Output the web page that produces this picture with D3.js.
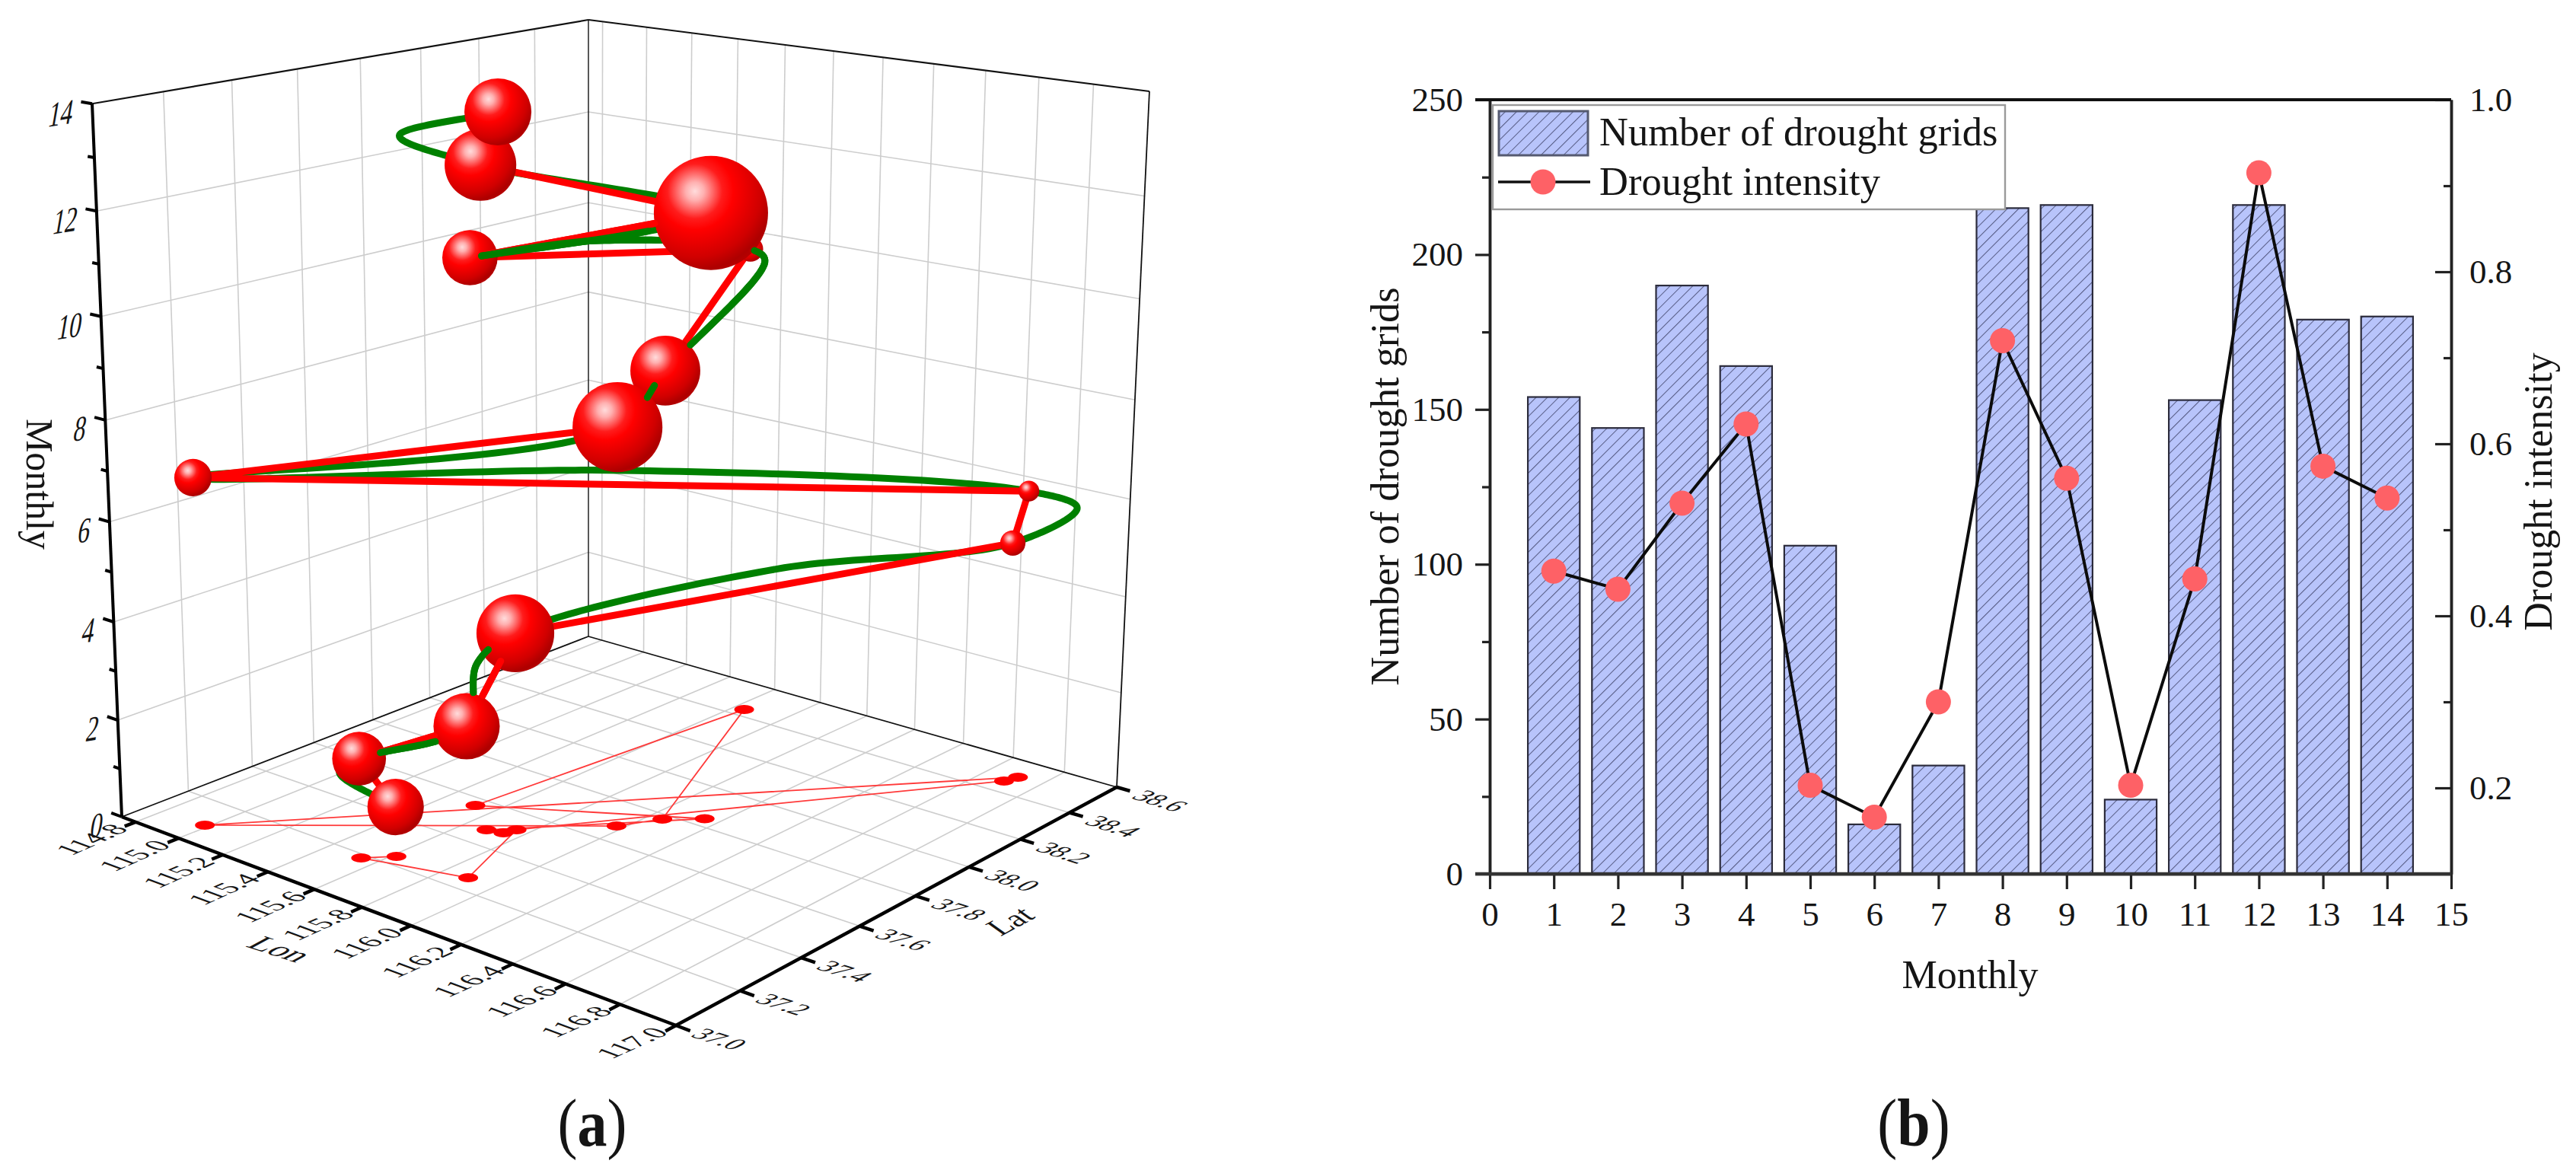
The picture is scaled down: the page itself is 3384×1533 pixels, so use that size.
<!DOCTYPE html>
<html>
<head>
<meta charset="utf-8">
<script src="https://cdn.jsdelivr.net/npm/d3@7"></script>
<style>
  html, body { margin: 0; padding: 0; background: #fff; }
  text { font-family: "Liberation Serif", serif; fill: #151515; }
</style>
</head>
<body>
<svg id="chart" width="3384" height="1533"></svg>
<script>
// values
const months = [1, 2, 3, 4, 5, 6, 7, 8, 9, 10, 11, 12, 13, 14];
const droughtGrids = [154, 144, 190, 164, 106, 16, 35, 215, 216, 24, 153, 216, 179, 180];
const droughtIntensity = [0.452, 0.431, 0.531, 0.623, 0.203, 0.166, 0.3, 0.72, 0.56, 0.203, 0.443, 0.915, 0.574, 0.537];
const lon = [115.615, 115.541, 115.893, 115.755, 116.692, 116.708, 114.985, 115.974, 116.048, 115.641, 115.522, 116.148, 115.684, 115.74];
const lat = [37.239, 37.183, 37.256, 37.519, 38.463, 38.504, 37.088, 37.679, 37.776, 38.44, 37.563, 37.839, 37.475, 37.487];

// green spline of panel a, its knots
const greenMonth = [1, 1.5, 2, 3, 3.57, 4, 4.5, 5, 5.37, 6, 6.42, 7, 8, 9, 9.7, 10, 10.5, 11, 12, 13, 13.5, 14];
const greenLon = [115.615, 115.427, 115.541, 115.893, 115.719, 115.755, 116.13, 116.692, 116.745, 116.708, 115.719, 114.985, 115.974, 116.048, 115.65, 115.641, 115.407, 115.522, 116.148, 115.684, 115.481, 115.74];
const greenLat = [37.239, 37.202, 37.183, 37.256, 37.423, 37.519, 38.105, 38.463, 38.67, 38.504, 37.906, 37.088, 37.679, 37.776, 38.488, 38.44, 38.068, 37.563, 37.839, 37.475, 37.381, 37.487];

const lonTicks = [114.8, 115.0, 115.2, 115.4, 115.6, 115.8, 116.0, 116.2, 116.4, 116.6, 116.8, 117.0];
const latTicks = [37.0, 37.2, 37.4, 37.6, 37.8, 38.0, 38.2, 38.4, 38.6];
const zMajor = [0, 2, 4, 6, 8, 10, 12, 14];
const zMinor = [1, 3, 5, 7, 9, 11, 13];

const xTicks = d3.range(0, 16);
const leftTicks = [0, 50, 100, 150, 200, 250];
const leftMinor = [25, 75, 125, 175, 225];
const rightTicks = [0.2, 0.4, 0.6, 0.8, 1.0];
const rightMinor = [0.3, 0.5, 0.7, 0.9];

var svg = d3.select("#chart");
var defs = svg.append("defs");

// ---------- panel a: 3D scatter, perspective box fitted to the drawn corners ----------
const cornerL = [160, 1073], cornerF = [888, 1347], cornerR = [1467, 1034], cornerB = [773, 836];
const vanish = [773, 15800];
const backTopY = 26;

var lonScale = d3.scaleLinear().domain([114.735, 117]).range([0, 1]);
var latScale = d3.scaleLinear().domain([37, 38.6]).range([0, 1]);
var monthScale = d3.scaleLinear().domain([0, 14]).range([0, 1]);
var sizeScale = d3.scaleLinear().domain([0, 1]).range([0, 82]);

// square to quad homography (floor plane)
const sx = cornerL[0] - cornerF[0] + cornerR[0] - cornerB[0];
const sy = cornerL[1] - cornerF[1] + cornerR[1] - cornerB[1];
const dx1 = cornerF[0] - cornerR[0], dx2 = cornerB[0] - cornerR[0];
const dy1 = cornerF[1] - cornerR[1], dy2 = cornerB[1] - cornerR[1];
const den = dx1 * dy2 - dx2 * dy1;
const hg = (sx * dy2 - dx2 * sy) / den;
const hh = (dx1 * sy - sx * dy1) / den;
const ha = cornerF[0] - cornerL[0] + hg * cornerF[0];
const hb = cornerB[0] - cornerL[0] + hh * cornerB[0];
const hd = cornerF[1] - cornerL[1] + hg * cornerF[1];
const he = cornerB[1] - cornerL[1] + hh * cornerB[1];
// weight of the vertical vanishing point, from the back edge height
const kappa = (-(cornerB[1] - backTopY) / (vanish[1] - backTopY)) * (1 + hh);

function project(lo, la, mo) {
  const u = lonScale(lo), v = latScale(la), w = monthScale(mo);
  const x = ha * u + hb * v + cornerL[0];
  const y = hd * u + he * v + cornerL[1];
  const d = hg * u + hh * v + 1;
  const k = kappa * w;
  return [(x + k * vanish[0]) / (d + k), (y + k * vanish[1]) / (d + k)];
}

const lonMin = lonScale.domain()[0], lonMax = 117, latMin = 37, latMax = 38.6, zTop = 14;

var gridG = svg.append("g");
function seg(g, a, b, color, width) {
  g.append("line")
    .attr("x1", a[0]).attr("y1", a[1])
    .attr("x2", b[0]).attr("y2", b[1])
    .attr("stroke", color)
    .attr("stroke-width", width);
}

// grid on floor and the two walls
lonTicks.forEach(function (t) {
  if (t >= lonMax) return;
  seg(gridG, project(t, latMin, 0), project(t, latMax, 0), "#cdcdcd", 1.6);
  seg(gridG, project(t, latMax, 0), project(t, latMax, zTop), "#cdcdcd", 1.6);
});
latTicks.forEach(function (t) {
  if (t <= latMin || t >= latMax) return;
  seg(gridG, project(lonMin, t, 0), project(lonMax, t, 0), "#cdcdcd", 1.6);
  seg(gridG, project(lonMin, t, 0), project(lonMin, t, zTop), "#cdcdcd", 1.6);
});
zMajor.slice(1, -1).forEach(function (t) {
  seg(gridG, project(lonMin, latMin, t), project(lonMin, latMax, t), "#cdcdcd", 1.6);
  seg(gridG, project(lonMin, latMax, t), project(lonMax, latMax, t), "#cdcdcd", 1.6);
});

// box edges
seg(gridG, project(lonMin, latMin, zTop), project(lonMin, latMax, zTop), "#111", 2.2);
seg(gridG, project(lonMin, latMax, zTop), project(lonMax, latMax, zTop), "#111", 2.2);
seg(gridG, project(lonMin, latMax, 0), project(lonMin, latMax, zTop), "#111", 1.4);
seg(gridG, project(lonMax, latMax, 0), project(lonMax, latMax, zTop), "#111", 1.8);
seg(gridG, project(lonMin, latMin, 0), project(lonMin, latMax, 0), "#111", 1.8);
seg(gridG, project(lonMin, latMax, 0), project(lonMax, latMax, 0), "#111", 1.8);

// axes and ticks of the box
var axisG = svg.append("g");
seg(axisG, project(lonMin, latMin, 0), project(lonMax, latMin, 0), "#000", 4.5);
seg(axisG, project(lonMax, latMin, 0), project(lonMax, latMax, 0), "#000", 4.5);
seg(axisG, project(lonMin, latMin, 0), project(lonMin, latMin, zTop), "#000", 4);

// labels lie in the floor plane, so they are sheared along the box axes
const alongLat = "0.914,-0.407,0.935,0.35";
const alongLon = "0.951,0.309,-0.88,0.47";

lonTicks.forEach(function (t) {
  const p = project(t, latMin, 0);
  seg(axisG, p, project(t, latMin - 0.032, 0), "#000", 4.5);
  axisG.append("text")
    .attr("transform", `matrix(${alongLat},${p[0] - 58},${p[1] + 23})`)
    .attr("text-anchor", "middle")
    .attr("dy", "0.33em")
    .attr("font-size", 38)
    .text(t.toFixed(1));
});
latTicks.forEach(function (t) {
  const p = project(lonMax, t, 0);
  seg(axisG, p, project(lonMax + 0.05, t, 0), "#000", 4.5);
  axisG.append("text")
    .attr("transform", `matrix(${alongLon},${p[0] + 57},${p[1] + 18})`)
    .attr("text-anchor", "middle")
    .attr("dy", "0.33em")
    .attr("font-size", 35)
    .text(t.toFixed(1));
});
zMajor.forEach(function (t) {
  const p = project(lonMin, latMin, t);
  seg(axisG, p, project(lonMin - 0.05, latMin, t), "#000", 4);
  axisG.append("text")
    .attr("transform", `matrix(0.66,-0.11,-0.17,0.98,${p[0] - 25},${p[1] + 10})`)
    .attr("text-anchor", "end")
    .attr("dy", "0.33em")
    .attr("font-size", 48)
    .text(t);
});
zMinor.forEach(function (t) {
  seg(axisG, project(lonMin, latMin, t), project(lonMin - 0.03, latMin, t), "#000", 4);
});

axisG.append("text")
  .attr("transform", "translate(51,636) rotate(90)")
  .attr("text-anchor", "middle")
  .attr("dy", "0.33em")
  .attr("font-size", 50)
  .text("Monthly");
axisG.append("text")
  .attr("transform", `matrix(${alongLon},368,1247)`)
  .attr("text-anchor", "middle")
  .attr("dy", "0.33em")
  .attr("font-size", 44)
  .text("Lon");
axisG.append("text")
  .attr("transform", "matrix(0.88,-0.47,0.82,0.58,1327,1210)")
  .attr("text-anchor", "middle")
  .attr("dy", "0.33em")
  .attr("font-size", 40)
  .text("Lat");

// floor shadow of the trajectory
var floorPts = months.map((m, i) => project(lon[i], lat[i], 0));
var polyline = d3.line();
svg.append("path")
  .attr("d", polyline(floorPts))
  .attr("fill", "none")
  .attr("stroke", "#ff3a3a")
  .attr("stroke-width", 1.8);
svg.append("g")
  .selectAll("ellipse")
  .data(floorPts)
  .enter()
  .append("ellipse")
  .attr("cx", (d) => d[0])
  .attr("cy", (d) => d[1])
  .attr("rx", 13)
  .attr("ry", 6)
  .attr("fill", "#f00");

// centripetal spline, sampled so that parts of it can be painted over the spheres
var greenKnots = greenMonth.map((m, i) => project(greenLon[i], greenLat[i], m));
function chord(a, b) {
  return Math.sqrt(Math.hypot(b[0] - a[0], b[1] - a[1])) || 1;
}
function slopeAt(pts, i) {
  const last = pts.length - 1;
  if (i === 0) return [0, 1].map((k) => (pts[1][k] - pts[0][k]) / chord(pts[0], pts[1]));
  if (i === last) return [0, 1].map((k) => (pts[last][k] - pts[last - 1][k]) / chord(pts[last - 1], pts[last]));
  const d0 = chord(pts[i - 1], pts[i]), d1 = chord(pts[i], pts[i + 1]);
  return [0, 1].map((k) =>
    (pts[i][k] - pts[i - 1][k]) / d0 - (pts[i + 1][k] - pts[i - 1][k]) / (d0 + d1) + (pts[i + 1][k] - pts[i][k]) / d1
  );
}
function splineSamples(pts, from, to) {
  var out = [];
  for (let i = from; i < to; i++) {
    const p0 = pts[i], p1 = pts[i + 1], d = chord(p0, p1);
    const m0 = slopeAt(pts, i), m1 = slopeAt(pts, i + 1);
    for (let s = 0; s <= 30; s++) {
      const t = s / 30, t2 = t * t, t3 = t2 * t;
      const h00 = 2 * t3 - 3 * t2 + 1, h10 = t3 - 2 * t2 + t, h01 = -2 * t3 + 3 * t2, h11 = t3 - t2;
      out.push([
        h00 * p0[0] + h10 * d * m0[0] + h01 * p1[0] + h11 * d * m1[0],
        h00 * p0[1] + h10 * d * m0[1] + h01 * p1[1] + h11 * d * m1[1],
      ]);
    }
  }
  return out;
}

var centers = months.map((m, i) => project(lon[i], lat[i], m));
var radii = droughtIntensity.map((d) => sizeScale(d));

var lineG = svg.append("g").attr("fill", "none").attr("stroke-linecap", "round");
lineG.append("path")
  .attr("d", polyline(splineSamples(greenKnots, 0, greenKnots.length - 1)))
  .attr("stroke", "#008000")
  .attr("stroke-width", 9);
lineG.append("path")
  .attr("d", polyline(centers))
  .attr("stroke", "#f00")
  .attr("stroke-width", 9);

// spheres
var sphereGrad = defs.append("radialGradient")
  .attr("id", "sphere")
  .attr("cx", 0.36).attr("cy", 0.31).attr("r", 0.8);
[[0, "#ffdcdc"], [0.1, "#ffb0b0"], [0.3, "#ff1c1c"], [0.42, "#ff0000"], [0.72, "#d00000"], [0.86, "#ae0000"], [1, "#c00000"]].forEach(function (s) {
  sphereGrad.append("stop").attr("offset", s[0]).attr("stop-color", s[1]);
});
const sphereOrder = [10, 9, 8, 2, 1, 3, 4, 5, 6, 7, 11, 12, 13, 14];
svg.append("g")
  .selectAll("circle")
  .data(sphereOrder)
  .enter()
  .append("circle")
  .attr("cx", (m) => centers[m - 1][0])
  .attr("cy", (m) => centers[m - 1][1])
  .attr("r", (m) => radii[m - 1])
  .attr("fill", "url(#sphere)");

// pieces of the lines that run in front of a sphere
function frontPiece(samples, allowed) {
  return samples.filter(function (p) {
    return months.every(function (m, i) {
      const limit = allowed[m] === undefined ? 1 : allowed[m];
      return Math.hypot(p[0] - centers[i][0], p[1] - centers[i][1]) > limit * radii[i];
    });
  });
}
function greenPiece(m0, m1) {
  return splineSamples(greenKnots, greenMonth.indexOf(m0), greenMonth.indexOf(m1));
}
function redPiece(m0) {
  return d3.range(0, 31).map((s) => d3.interpolate(centers[m0 - 1], centers[m0])(s / 30));
}
var frontG = svg.append("g").attr("fill", "none").attr("stroke-linecap", "round");
[[2, { 2: 0.77 }], [3, { 4: 0.75 }], [11, { 11: 0.5 }]].forEach(function (d) {
  frontG.append("path")
    .attr("d", polyline(frontPiece(redPiece(d[0]), d[1])))
    .attr("stroke", "#f00")
    .attr("stroke-width", 9);
});
[[2, 3, { 2: 0.77 }], [3, 4, { 4: 0.8 }], [8, 9, { 8: 0.9, 9: 0.5 }], [9, 10, { 10: 0 }], [10, 11, { 11: 0.37 }], [11, 12, { 11: 0.37 }]].forEach(function (d) {
  frontG.append("path")
    .attr("d", polyline(frontPiece(greenPiece(d[0], d[1]), d[2])))
    .attr("stroke", "#008000")
    .attr("stroke-width", 9);
});

function panelLabel(cx, letter) {
  svg.append("text")
    .attr("transform", `translate(${cx},1505) scale(1,1.15)`)
    .attr("text-anchor", "middle")
    .attr("font-size", 78)
    .html(`(<tspan font-weight="bold">${letter}</tspan>)`);
}
panelLabel(778, "a");

// ---------- panel b: bars and line ----------
const plotLeft = 1957, plotRight = 3220, plotTop = 131, plotBottom = 1148;

var x = d3.scaleLinear().domain([0, 15]).range([plotLeft, plotRight]);
var yLeft = d3.scaleLinear().domain([0, 250]).range([plotBottom, plotTop]);
var yRight = d3.scaleLinear().domain([0.1, 1]).range([plotBottom, plotTop]);

defs.append("pattern")
  .attr("id", "hatch")
  .attr("patternUnits", "userSpaceOnUse")
  .attr("width", 10.5)
  .attr("height", 10.5)
  .attr("patternTransform", "rotate(45)")
  .call(function (p) {
    p.append("rect").attr("width", 10.5).attr("height", 10.5).attr("fill", "#b8c4fb");
    p.append("line")
      .attr("x1", 0).attr("y1", 0).attr("x2", 0).attr("y2", 10.5)
      .attr("stroke", "#565b84")
      .attr("stroke-width", 2);
  });

const barWidth = x(0.81) - x(0);
svg.append("g")
  .selectAll("rect")
  .data(months)
  .enter()
  .append("rect")
  .attr("x", (m) => x(m) - barWidth / 2)
  .attr("y", (m, i) => yLeft(droughtGrids[i]))
  .attr("width", barWidth)
  .attr("height", (m, i) => plotBottom - yLeft(droughtGrids[i]))
  .attr("fill", "url(#hatch)")
  .attr("stroke", "#2c2c3c")
  .attr("stroke-width", 2.2);

var intensityLine = d3.line()
  .x((d) => x(d.m))
  .y((d) => yRight(d.v));
var linePts = months.map((m, i) => ({ m: m, v: droughtIntensity[i] }));
svg.append("path")
  .attr("d", intensityLine(linePts))
  .attr("fill", "none")
  .attr("stroke", "#0c0c0c")
  .attr("stroke-width", 4);
svg.append("g")
  .selectAll("circle")
  .data(linePts)
  .enter()
  .append("circle")
  .attr("cx", (d) => x(d.m))
  .attr("cy", (d) => yRight(d.v))
  .attr("r", 16.5)
  .attr("fill", "#fe6166");

function styleAxis(g, size) {
  g.selectAll("path.domain").attr("stroke", "#222").attr("stroke-width", 3.5);
  g.selectAll(".tick line").attr("stroke", "#222").attr("stroke-width", 3.2);
  g.selectAll(".tick text")
    .attr("font-size", size)
    .attr("font-family", '"Liberation Serif", serif')
    .attr("fill", "#1c1c1c");
}

svg.append("g")
  .attr("transform", `translate(0,${plotBottom})`)
  .call(d3.axisBottom(x).tickValues(xTicks).tickSize(20).tickPadding(16).tickFormat(d3.format("d")).tickSizeOuter(0))
  .call(styleAxis, 45);
svg.append("g")
  .attr("transform", `translate(${plotLeft},0)`)
  .call(d3.axisLeft(yLeft).tickValues(leftTicks).tickSize(19).tickPadding(16).tickFormat(d3.format("d")).tickSizeOuter(0))
  .call(styleAxis, 45);
svg.append("g")
  .attr("transform", `translate(${plotLeft},0)`)
  .call(d3.axisLeft(yLeft).tickValues(leftMinor).tickSize(10).tickFormat("").tickSizeOuter(0))
  .call(styleAxis, 45);
svg.append("g")
  .attr("transform", `translate(${plotRight},0)`)
  .call(d3.axisRight(yRight).tickValues(rightTicks).tickSize(-21).tickPadding(24).tickFormat(d3.format(".1f")).tickSizeOuter(0))
  .call(styleAxis, 45);
svg.append("g")
  .attr("transform", `translate(${plotRight},0)`)
  .call(d3.axisRight(yRight).tickValues(rightMinor).tickSize(-10).tickFormat("").tickSizeOuter(0))
  .call(styleAxis, 45);

// top frame line and the ends of the zero line
seg(svg, [plotLeft - 19, plotTop], [plotRight, plotTop], "#111", 4);
seg(svg, [plotLeft - 19, plotBottom], [plotRight, plotBottom], "#333", 4.5);

svg.append("text")
  .attr("x", 2588).attr("y", 1298)
  .attr("text-anchor", "middle")
  .attr("font-size", 52)
  .text("Monthly");
svg.append("text")
  .attr("transform", "translate(1837,639) rotate(-90)")
  .attr("text-anchor", "middle")
  .attr("font-size", 52.5)
  .text("Number of drought grids");
svg.append("text")
  .attr("transform", "translate(3352,646) rotate(-90)")
  .attr("text-anchor", "middle")
  .attr("font-size", 52)
  .text("Drought intensity");

// legend
var legend = svg.append("g");
legend.append("rect")
  .attr("x", 1961).attr("y", 138)
  .attr("width", 673).attr("height", 137)
  .attr("fill", "#fff")
  .attr("stroke", "#9a9a9a")
  .attr("stroke-width", 2.4);
legend.append("rect")
  .attr("x", 1969).attr("y", 146)
  .attr("width", 117).attr("height", 58)
  .attr("fill", "url(#hatch)")
  .attr("stroke", "#555a70")
  .attr("stroke-width", 3);
seg(legend, [1968, 239], [2089, 239], "#111", 3.6);
legend.append("circle")
  .attr("cx", 2027).attr("cy", 239)
  .attr("r", 16.5)
  .attr("fill", "#fe6166");
legend.append("text")
  .attr("x", 2101).attr("y", 191)
  .attr("font-size", 52.5)
  .text("Number of drought grids");
legend.append("text")
  .attr("x", 2101).attr("y", 256)
  .attr("font-size", 52.5)
  .text("Drought intensity");

panelLabel(2514, "b");
</script>
</body>
</html>
